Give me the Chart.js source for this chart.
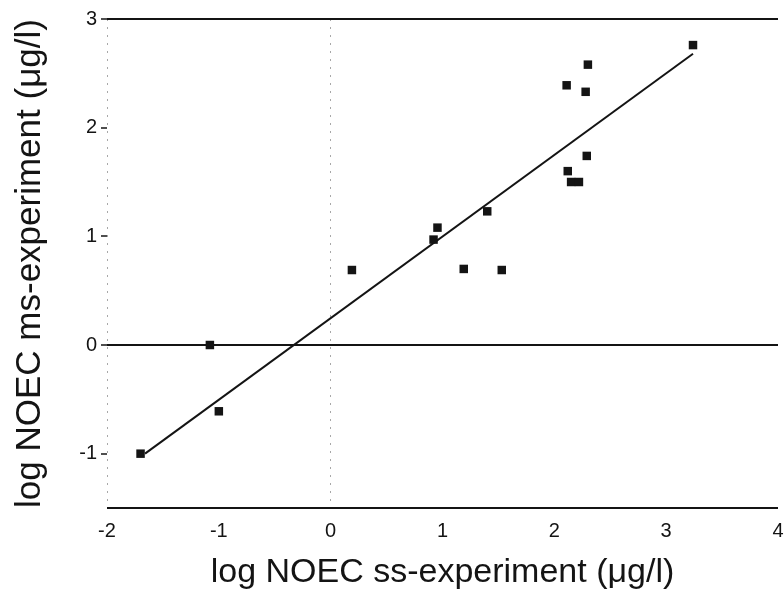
<!DOCTYPE html>
<html>
<head>
<meta charset="utf-8">
<script src="https://cdn.jsdelivr.net/npm/chart.js@4.4.1/dist/chart.umd.min.js"></script>
<style>
html,body{margin:0;padding:0;background:#ffffff;}
#wrap{width:784px;height:598px;position:relative;}
</style>
</head>
<body>
<div id="wrap"><canvas id="c" width="784" height="598"></canvas></div>
<script>
// ---- data ----
const ssX = [-1.70, -1.08, -1.00, 0.19, 0.92, 0.955, 1.19, 1.40, 1.53, 2.11, 2.30, 2.28, 2.29, 2.12, 2.15, 2.22, 3.24];
const msY = [-1.00,  0.00, -0.61, 0.69, 0.97, 1.08,  0.70, 1.23, 0.69, 2.39, 2.58, 2.33, 1.74, 1.60, 1.50, 1.50, 2.76];
const fitX = [-1.66, 3.24];
const fitY = [-1.00, 2.68];
const xTicks = [-2, -1, 0, 1, 2, 3, 4];
const yTicks = [-1.5, -1, 0, 1, 2, 3];
const yLabelled = [-1, 0, 1, 2, 3];
const ySolidLines = [-1.5, 0, 3];
const xDashedLines = [-2, 0];
const xTitle = 'log NOEC ss-experiment (\u03bcg/l)';
const yTitle = 'log NOEC ms-experiment (\u03bcg/l)';

const INK = '#141414';
const FONT = "'Liberation Sans', Arial, sans-serif";

new Chart(document.getElementById('c'), {
  type: 'scatter',
  data: {
    datasets: [
      {
        label: 'data',
        data: ssX.map((x, i) => ({x: x, y: msY[i]})),
        pointStyle: 'rect',
        pointRadius: 6,
        pointHoverRadius: 6,
        backgroundColor: INK,
        borderWidth: 0,
        showLine: false
      },
      {
        label: 'fit',
        data: fitX.map((x, i) => ({x: x, y: fitY[i]})),
        showLine: true,
        pointRadius: 0,
        borderColor: INK,
        borderWidth: 2,
        fill: false
      }
    ]
  },
  options: {
    responsive: false,
    animation: false,
    devicePixelRatio: 1,
    layout: {padding: {top: 19, right: 0, bottom: 0, left: 0}},
    plugins: {legend: {display: false}, tooltip: {enabled: false}},
    scales: {
      x: {
        type: 'linear',
        min: -2,
        max: 4,
        afterBuildTicks: s => { s.ticks = xTicks.map(v => ({value: v})); },
        afterFit: s => { s.height = 90; s.paddingRight = 5; s.paddingLeft = 0; },
        border: {display: false, dash: [2, 6]},
        grid: {
          drawTicks: false,
          tickLength: 0,
          lineWidth: 1,
          color: c => (c.tick && xDashedLines.includes(c.tick.value)) ? '#a8a8a8' : 'rgba(0,0,0,0)'
        },
        ticks: {
          color: INK,
          padding: 11,
          font: {family: FONT, size: 20},
          callback: v => String(v)
        },
        title: {
          display: true,
          text: xTitle,
          color: INK,
          font: {family: FONT, size: 34},
          padding: {top: 0, bottom: 5}
        }
      },
      y: {
        type: 'linear',
        min: -1.5,
        max: 3,
        afterBuildTicks: s => { s.ticks = yTicks.map(v => ({value: v})); },
        afterFit: s => { s.width = 107; },
        border: {display: false},
        grid: {
          drawTicks: true,
          tickLength: 6,
          tickWidth: 1.5,
          lineWidth: 2,
          color: c => (c.tick && ySolidLines.includes(c.tick.value)) ? INK : 'rgba(0,0,0,0)',
          tickColor: c => (c.tick && yLabelled.includes(c.tick.value)) ? INK : 'rgba(0,0,0,0)'
        },
        ticks: {
          color: INK,
          padding: 4,
          font: {family: FONT, size: 20},
          callback: v => yLabelled.includes(v) ? String(v) : ''
        },
        title: {
          display: true,
          text: yTitle,
          color: INK,
          font: {family: FONT, size: 35},
          padding: {top: 9, bottom: 0}
        }
      }
    }
  }
});
</script>
</body>
</html>
